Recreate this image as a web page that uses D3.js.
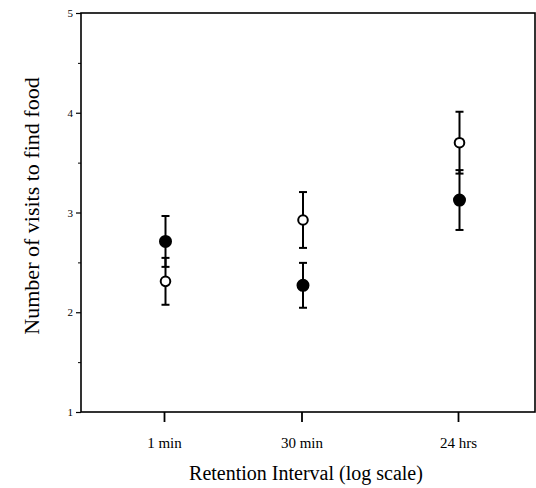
<!DOCTYPE html>
<html><head><meta charset="utf-8">
<script src="https://cdn.jsdelivr.net/npm/d3@7"></script>
<style>body{margin:0;background:#fff}</style>
</head><body>
<svg id="c" width="536" height="488"></svg>
<script>
const intervals = [1, 30, 1440];
const intervalLabels = ["1 min", "30 min", "24 hrs"];
const openMeans = [2.31, 2.925, 3.70];
const openErr = [0.235, 0.28, 0.31];
const filledMeans = [2.71, 2.27, 3.125];
const filledErr = [0.255, 0.225, 0.30];
const yTicks = [1, 2, 3, 4, 5];
const yMinorTicks = [1.5, 2.5, 3.5, 4.5];

const svg = d3.select("#c");
const L = 81, R = 535, T = 13, B = 412;
const x = d3.scaleLog().domain([1, 1440]).range([164, 458]);
const y = d3.scaleLinear().domain([1, 5]).range([B, T]);
const font = "'Liberation Serif','Times New Roman',serif";

// frame
svg.append("rect").attr("x", L).attr("y", T).attr("width", R - L).attr("height", B - T)
  .attr("fill", "none").attr("stroke", "#000").attr("stroke-width", 1.6);

// y axis
const yAxis = d3.axisLeft(y).tickValues(yTicks).tickSize(5).tickFormat(d3.format("d"));
const gy = svg.append("g").attr("transform", `translate(${L},0)`).call(yAxis);
gy.select(".domain").remove();
gy.selectAll("line").attr("stroke-width", 1.2);
gy.selectAll("text").attr("font-family", font).attr("font-size", 11).attr("dx", 0);
const yMinor = d3.axisLeft(y).tickValues(yMinorTicks).tickSize(3).tickFormat("");
const gym = svg.append("g").attr("transform", `translate(${L},0)`).call(yMinor);
gym.select(".domain").remove();

// x axis
const xAxis = d3.axisBottom(x).tickValues(intervals).tickSize(10)
  .tickFormat((d, i) => intervalLabels[i]);
const gx = svg.append("g").attr("transform", `translate(0,${B})`).call(xAxis);
gx.select(".domain").remove();
gx.selectAll("line").attr("stroke-width", 1.8);
gx.selectAll("text").attr("font-family", font).attr("font-size", 15).attr("dy", "1.55em");

// axis titles
svg.append("text").attr("x", 306).attr("y", 480).attr("text-anchor", "middle")
  .attr("font-family", font).attr("font-size", 20).text("Retention Interval (log scale)");
svg.append("text").attr("transform", "translate(39,206) rotate(-90)").attr("text-anchor", "middle")
  .attr("font-family", font).attr("font-size", 22).text("Number of visits to find food");

// data
const series = [
  {means: filledMeans, err: filledErr, filled: true},
  {means: openMeans, err: openErr, filled: false}
];
const cap = 4;
series.forEach(s => {
  const g = svg.append("g");
  intervals.forEach((iv, i) => {
    const cx = x(iv) + 1.5;
    const lo = y(s.means[i] - s.err[i]), hi = y(s.means[i] + s.err[i]);
    g.append("line").attr("x1", cx).attr("x2", cx).attr("y1", lo).attr("y2", hi)
      .attr("stroke", "#000").attr("stroke-width", 2);
    [lo, hi].forEach(yy => g.append("line").attr("x1", cx - cap).attr("x2", cx + cap)
      .attr("y1", yy).attr("y2", yy).attr("stroke", "#000").attr("stroke-width", 2));
  });
});
series.forEach(s => {
  intervals.forEach((iv, i) => {
    svg.append("circle").attr("cx", x(iv) + 1.5).attr("cy", y(s.means[i]))
      .attr("r", s.filled ? 5.5 : 4.8)
      .attr("fill", s.filled ? "#000" : "#fff").attr("stroke", "#000").attr("stroke-width", 2);
  });
});
</script>
</body></html>
